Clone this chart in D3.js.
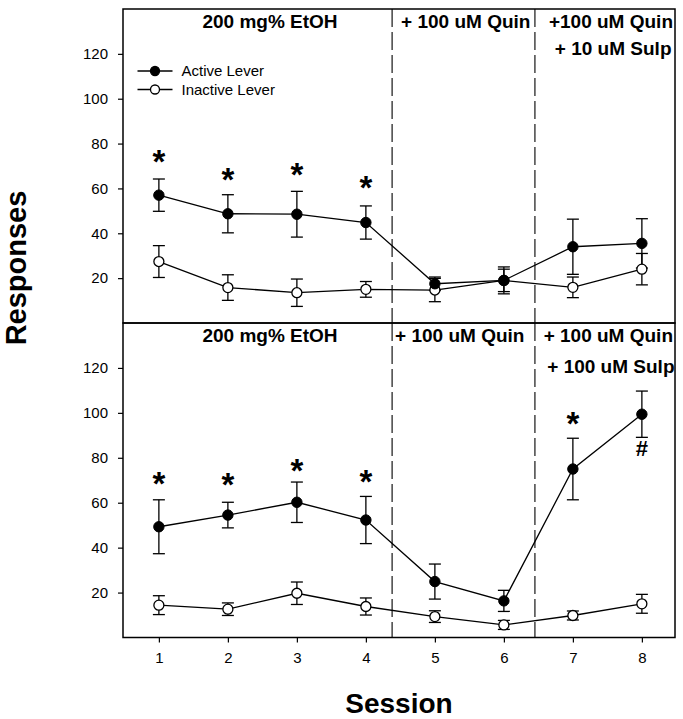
<!DOCTYPE html>
<html>
<head>
<meta charset="utf-8">
<script src="https://cdn.jsdelivr.net/npm/d3@7"></script>
<style>
  html, body { margin: 0; padding: 0; background: #fff; }
  svg text { font-family: "Liberation Sans", Arial, Helvetica, sans-serif; fill: #000; }
</style>
</head>
<body>
<svg id="chart" width="683" height="719"></svg>
<script>
// ---------- DATA ----------
const sessions = [1, 2, 3, 4, 5, 6, 7, 8];
const yTicks = [20, 40, 60, 80, 100, 120];

// Top panel (200 mg% EtOH / +100 uM Quin / +100 uM Quin + 10 uM Sulp)
const topActive      = [57.0, 48.7, 48.5, 44.8, 17.5, 19.0, 34.0, 35.5];
const topActiveErr   = [7.2, 8.5, 10.2, 7.4, 3.0, 6.0, 12.3, 11.0];
const topInactive    = [27.4, 15.8, 13.5, 15.0, 14.7, 19.0, 15.9, 24.0];
const topInactiveErr = [7.1, 5.7, 6.1, 3.5, 5.2, 5.0, 4.6, 7.0];
const topStarSessions = [1, 2, 3, 4];
const topStarValues   = [74.7, 66.5, 69.0, 63.0];

// Bottom panel (200 mg% EtOH / +100 uM Quin / +100 uM Quin + 100 uM Sulp)
const botActive      = [49.3, 54.5, 60.2, 52.3, 24.9, 16.3, 75.0, 99.4];
const botActiveErr   = [12.0, 5.7, 9.0, 10.5, 7.8, 4.7, 13.7, 10.3];
const botInactive    = [14.4, 12.6, 19.7, 13.8, 9.3, 5.6, 9.8, 15.0];
const botInactiveErr = [4.2, 2.8, 5.0, 3.8, 2.6, 2.0, 2.0, 4.2];
const botStarSessions = [1, 2, 3, 4, 7];
const botStarValues   = [71.3, 70.7, 77.0, 72.2, 97.8];
const botHashSessions = [8];
const botHashValues   = [84.2];

const phaseBoundaries = [4.38, 6.45];
const topPhaseLabels = ["200 mg% EtOH", "+ 100 uM Quin", "+100 uM Quin", "+ 10 uM Sulp"];
const botPhaseLabels = ["200 mg% EtOH", "+ 100 uM Quin", "+ 100 uM Quin", "+ 100 uM Sulp"];
const seriesNames = ["Active Lever", "Inactive Lever"];

// ---------- LAYOUT ----------
const svg = d3.select("#chart");
const left = 123, right = 675;
const x = d3.scaleLinear().domain([0.48, 8.48]).range([left, right]);
const yTop = d3.scaleLinear().domain([0, 140]).range([323, 9]);
const yBot = d3.scaleLinear().domain([0, 140]).range([637.5, 323]);

function drawPanel(y, active, activeErr, inactive, inactiveErr, labels, opts) {
  const g = svg.append("g");
  const [y0, y1] = y.range();

  // dashed phase dividers
  phaseBoundaries.forEach(b => {
    g.append("line")
      .attr("x1", x(b)).attr("x2", x(b))
      .attr("y1", y1).attr("y2", y0)
      .attr("stroke", "#000").attr("stroke-width", 1.1)
      .attr("stroke-dasharray", "18,5");
  });

  // y axis
  const ax = g.append("g").attr("transform", `translate(${left},0)`)
    .call(d3.axisLeft(y).tickValues(yTicks).tickSize(5).tickPadding(10).tickSizeOuter(0));
  ax.select(".domain").remove();
  ax.selectAll("line").attr("stroke", "#000").attr("stroke-width", 1.2);
  ax.selectAll("text").style("font-size", "15px").attr("fill", "#000");

  // frame
  g.append("rect").attr("x", left).attr("y", y1).attr("width", right - left).attr("height", y0 - y1)
    .attr("fill", "none").attr("stroke", "#000").attr("stroke-width", 1.5);

  // phase labels
  const t = g.append("g").style("font-size", "19px").style("font-weight", "bold");
  t.append("text").attr("x", 270).attr("y", y1 + opts.b1).attr("text-anchor", "middle").text(labels[0]);
  t.append("text").attr("x", x(phaseBoundaries[0]) + opts.midDx).attr("y", y1 + opts.b1).text(labels[1]);
  t.append("text").attr("x", right - opts.rDx1).attr("y", y1 + opts.b1).attr("text-anchor", "end").text(labels[2]);
  t.append("text").attr("x", right - opts.rDx2).attr("y", y1 + opts.b2).attr("text-anchor", "end").text(labels[3]);

  // error bars
  const cap = 6;
  function errBars(vals, errs) {
    const eg = g.append("g").attr("stroke", "#000").attr("stroke-width", 1.3);
    sessions.forEach((s, i) => {
      const xi = x(s), hi = y(vals[i] + errs[i]), lo = y(vals[i] - errs[i]);
      eg.append("line").attr("x1", xi).attr("x2", xi).attr("y1", hi).attr("y2", lo);
      eg.append("line").attr("x1", xi - cap).attr("x2", xi + cap).attr("y1", hi).attr("y2", hi);
      eg.append("line").attr("x1", xi - cap).attr("x2", xi + cap).attr("y1", lo).attr("y2", lo);
    });
  }
  errBars(inactive, inactiveErr);
  errBars(active, activeErr);

  const line = d3.line().x((d, i) => x(sessions[i])).y(d => y(d));
  g.append("path").datum(inactive).attr("d", line).attr("fill", "none").attr("stroke", "#000").attr("stroke-width", 1.3);
  g.append("path").datum(active).attr("d", line).attr("fill", "none").attr("stroke", "#000").attr("stroke-width", 1.3);

  g.append("g").selectAll("circle").data(inactive).join("circle")
    .attr("cx", (d, i) => x(sessions[i])).attr("cy", d => y(d)).attr("r", 5)
    .attr("fill", "#fff").attr("stroke", "#000").attr("stroke-width", 1.3);
  g.append("g").selectAll("circle").data(active).join("circle")
    .attr("cx", (d, i) => x(sessions[i])).attr("cy", d => y(d)).attr("r", 5.2)
    .attr("fill", "#000").attr("stroke", "#000").attr("stroke-width", 1);

  return g;
}

function drawMarks(g, y, ss, vs, ch, size, shift) {
  g.append("g").selectAll("text").data(vs).join("text")
    .attr("x", (d, i) => x(ss[i])).attr("y", d => y(d) + shift)
    .attr("text-anchor", "middle")
    .style("font-size", size + "px").style("font-weight", "bold")
    .text(ch);
}

const gTop = drawPanel(yTop, topActive, topActiveErr, topInactive, topInactiveErr, topPhaseLabels,
  { b1: 18.5, b2: 46, midDx: 9, rDx1: 2, rDx2: 3.5 });
const gBot = drawPanel(yBot, botActive, botActiveErr, botInactive, botInactiveErr, botPhaseLabels,
  { b1: 19, b2: 50, midDx: 3, rDx1: 2, rDx2: 0.5 });

drawMarks(gTop, yTop, topStarSessions, topStarValues, "*", 33, 17.5);
drawMarks(gBot, yBot, botStarSessions, botStarValues, "*", 33, 17.5);
drawMarks(gBot, yBot, botHashSessions, botHashValues, "#", 22, 8);

// x axis (bottom)
const xa = svg.append("g").attr("transform", `translate(0,${yBot.range()[0]})`)
  .call(d3.axisBottom(x).tickValues(sessions).tickFormat(d3.format("d")).tickSize(5).tickPadding(10).tickSizeOuter(0));
xa.select(".domain").remove();
xa.selectAll("line").attr("stroke", "#000").attr("stroke-width", 1.2);
xa.selectAll("text").style("font-size", "15px").attr("fill", "#000");

// legend (top panel)
const leg = svg.append("g");
seriesNames.forEach((name, i) => {
  const ly = 71 + i * 18.5;
  leg.append("line").attr("x1", 137.5).attr("x2", 172.5).attr("y1", ly).attr("y2", ly)
    .attr("stroke", "#000").attr("stroke-width", 1.3);
  leg.append("circle").attr("cx", 155).attr("cy", ly).attr("r", 4.5)
    .attr("fill", i === 0 ? "#000" : "#fff").attr("stroke", "#000").attr("stroke-width", 1.3);
  leg.append("text").attr("x", 181.5).attr("y", ly + 5.3).style("font-size", "15px").text(name);
});

// axis titles
svg.append("text").attr("transform", "translate(26,268) rotate(-90)")
  .attr("text-anchor", "middle").style("font-size", "29px").style("font-weight", "bold").text("Responses");
svg.append("text").attr("x", 399).attr("y", 713)
  .attr("text-anchor", "middle").style("font-size", "28px").style("font-weight", "bold").text("Session");
</script>
</body>
</html>
